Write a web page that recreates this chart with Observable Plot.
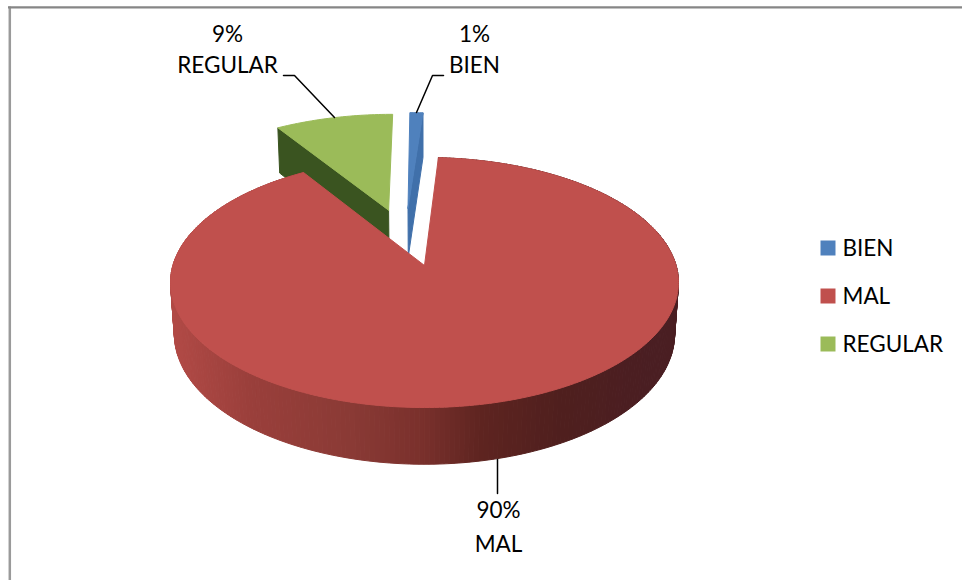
<!DOCTYPE html>
<html>
<head>
<meta charset="utf-8">
<style>
  html, body { margin: 0; padding: 0; background: #fff; }
  svg { display: block; }
</style>
<script src="https://cdn.jsdelivr.net/npm/d3@7"></script>
<script src="https://cdn.jsdelivr.net/npm/@observablehq/plot@0.6"></script>
</head>
<body>
<div id="chart"></div>
<script>
// Survey result shares
const categories = ["BIEN", "MAL", "REGULAR"];
const shares = [1, 90, 9];
const topColors = ["#4F81BD", "#C0504D", "#9BBB59"];
const sideColors = ["#4070AA", "#8A3A35", "#3A5420"];

// Pulled-out slices, as an offset on the disc (unit radius)
const explodeU = [-0.07, 0, -0.152];
const explodeV = [-0.5, 0, -0.48];

// Shading along the rim of the large slice, from left to right
const rimStops = [170, 250, 350, 420, 480, 560, 650, 678];
const rimShades = ["#B24A46", "#9A3F3B", "#8A3A35", "#7A302C", "#5E2420", "#4F1F1E", "#4A1E22", "#4A1E22"];

const W = 962, H = 580;
const FONT = "Lato, sans-serif", FONT_SIZE = 22.5;

// Tilted disc: centre, radii, perspective and thickness
const disc = {cx: 424, cy: 265, rx: 251.6, ry: 122.7, persp: 0.136, depth: 52, shrink: 0.015};

function project(u, v, z) {
  const w = 1 - disc.persp * v + disc.shrink * z;
  return {x: disc.cx + disc.rx * u / w, y: disc.cy + (disc.ry * v + disc.depth * z) / w};
}

const arcs = d3.pie().sort(null).startAngle(0).endAngle(2 * Math.PI)(shares);
const rim = d3.scaleLinear().domain(rimStops).range(rimShades).interpolate(d3.interpolateRgb);

const polys = [];
function addPoly(id, color, pts) {
  // The outline is closed so that neighbouring faces overlap without seams
  for (const p of [...pts, pts[0]]) polys.push({id, color, x: p.x, y: p.y});
}
function angleSteps(a0, a1) {
  const n = Math.max(2, Math.ceil((a1 - a0) / (Math.PI / 180)));
  return d3.range(n + 1).map(i => a0 + (a1 - a0) * i / n);
}
function pointAt(i, r, a, z) {
  return project(explodeU[i] + r * Math.sin(a), explodeV[i] - r * Math.cos(a), z);
}
function topFace(i) {
  const {startAngle: a0, endAngle: a1} = arcs[i];
  addPoly("top" + i, topColors[i], [pointAt(i, 0, 0, 0), ...angleSteps(a0, a1).map(a => pointAt(i, 1, a, 0))]);
}
function radialWall(i, a) {
  addPoly("wall" + i, sideColors[i], [pointAt(i, 0, a, 0), pointAt(i, 1, a, 0), pointAt(i, 1, a, 1), pointAt(i, 0, a, 1)]);
}

// Painted back to front: green, blue, then the large red slice over both
radialWall(2, arcs[2].startAngle);
topFace(2);
radialWall(0, arcs[0].endAngle);
topFace(0);

const steps = angleSteps(arcs[1].startAngle, arcs[1].endAngle);
steps.slice(1).forEach((a, k) => {
  const b = steps[k];
  const quad = [pointAt(1, 1, b, 0), pointAt(1, 1, a, 0), pointAt(1, 1, a, 1), pointAt(1, 1, b, 1)];
  addPoly("rim" + k, rim(d3.mean(quad, p => p.x)), quad);
});
topFace(1);

// Callouts
const labelX = [474, 498, 227];
const labelY = [47.5, 524, 47.5];
const labels = categories.map((name, i) => ({name, text: `${shares[i]}%\n${name}`, x: labelX[i], y: labelY[i]}));

const leaders = [
  {id: "BIEN", x: 443, y: 75}, {id: "BIEN", x: 432, y: 75}, {id: "BIEN", x: 416, y: 112},
  {id: "MAL", x: 497, y: 459}, {id: "MAL", x: 497, y: 493},
  {id: "REGULAR", x: 283, y: 75}, {id: "REGULAR", x: 294, y: 75}, {id: "REGULAR", x: 334, y: 117}
];

const legendY = [248, 296, 344];
const swatchY = [247.5, 295.5, 343.5];
const legend = categories.map((name, i) => ({name, color: topColors[i], y: legendY[i], sy: swatchY[i]}));

const labelStyle = {x: "x", y: "y", text: "text", fill: "#000", fontSize: FONT_SIZE, fontFamily: FONT};

const chart = Plot.plot({
  width: W,
  height: H,
  margin: 0,
  style: {background: "#fff", fontFamily: FONT},
  x: {domain: [0, W], range: [0, W], axis: null},
  y: {domain: [0, H], range: [0, H], axis: null},
  color: {type: "identity"},
  marks: [
    // Chart-area frame: left and top edges
    Plot.ruleX([9.3], {y1: 6.5, y2: H, stroke: "#9A9A9A", strokeWidth: 2.5}),
    Plot.ruleY([6.8], {x1: 8, x2: W, stroke: "#868686", strokeWidth: 2.2}),
    Plot.line(polys, {x: "x", y: "y", z: "id", fill: "color", stroke: "color", strokeWidth: 1, curve: "linear"}),
    Plot.line(leaders, {x: "x", y: "y", z: "id", stroke: "#000", strokeWidth: 1.5, curve: "linear"}),
    // The lower callout is set a little looser than the two upper ones
    Plot.text(labels, {...labelStyle, filter: d => d.name !== "MAL", lineHeight: 1.38}),
    Plot.text(labels, {...labelStyle, filter: d => d.name === "MAL", lineHeight: 1.5}),
    Plot.dot(legend, {x: 827.5, y: "sy", fill: "color", symbol: "square", r: 8.46, stroke: null}),
    Plot.text(legend, {x: 842, y: "y", text: "name", fill: "#000", textAnchor: "start", fontSize: FONT_SIZE, fontFamily: FONT})
  ]
});
document.getElementById("chart").appendChild(chart);
</script>
</body>
</html>
